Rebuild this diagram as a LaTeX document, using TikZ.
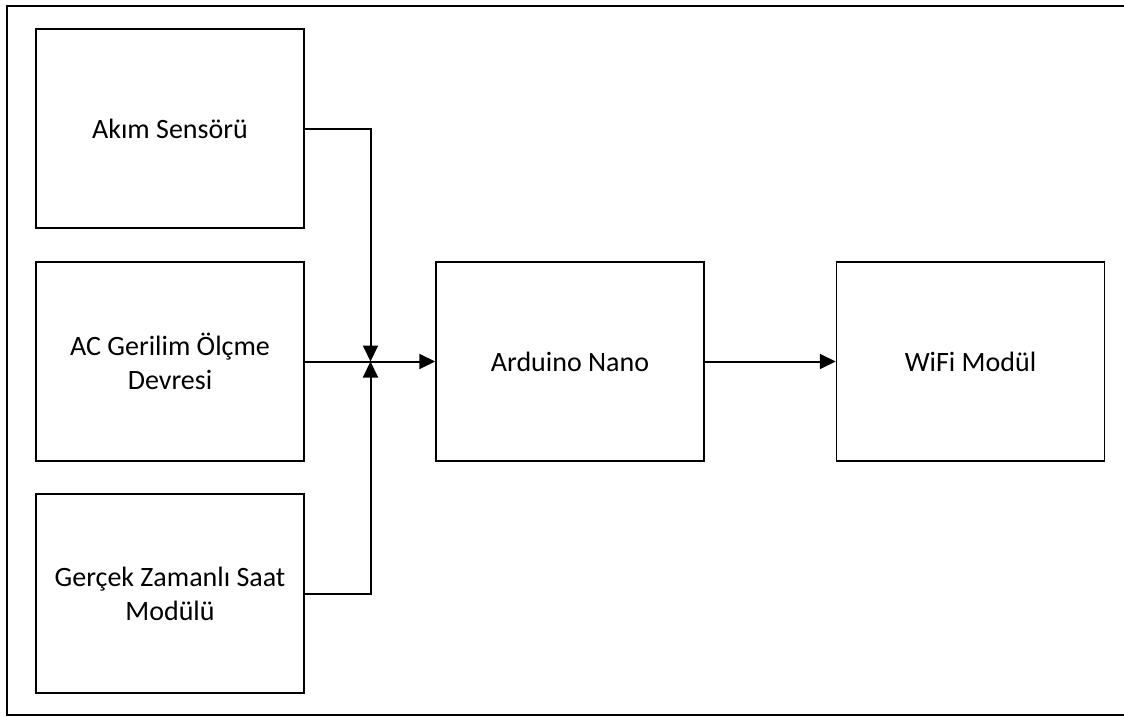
\documentclass[tikz,border=0pt]{standalone}
\usepackage{fontspec}
\setmainfont{Carlito}
\usetikzlibrary{arrows.meta}
\begin{document}
\begin{tikzpicture}[x=1pt,y=-1pt,
  blk/.style={draw=black,line width=1.5pt,minimum width=268pt,minimum height=199pt,
    inner sep=0pt,align=center,font=\fontsize{28}{34}\selectfont},
  conn/.style={line width=2pt},
  arr/.style={conn,-{Triangle[length=16pt,width=15pt]}}]
\useasboundingbox (0,0) rectangle (1124,717);
\draw[line width=2pt] (1130,6) -- (6.5,6) -- (6.5,715) -- (1130,715);
\node[blk] (akim) at (170,128.5) {Akım Sensörü};
\node[blk] (ac) at (170,361.5) {AC Gerilim Ölçme\\Devresi};
\node[blk] (rtc) at (170,593.5) {Gerçek Zamanlı Saat\\Modülü};
\node[blk] (ard) at (570,361.5) {Arduino Nano};
\node[blk] (wifi) at (970.5,361.5) {WiFi Modül};
\coordinate (j) at (370.5,361.5);
\draw[arr] (akim.east) -| (j);
\draw[arr] (rtc.east) -| (j);
\draw[arr] (ac.east) -- (ard.west);
\draw[arr] (ard.east) -- (wifi.west);
\end{tikzpicture}
\end{document}
